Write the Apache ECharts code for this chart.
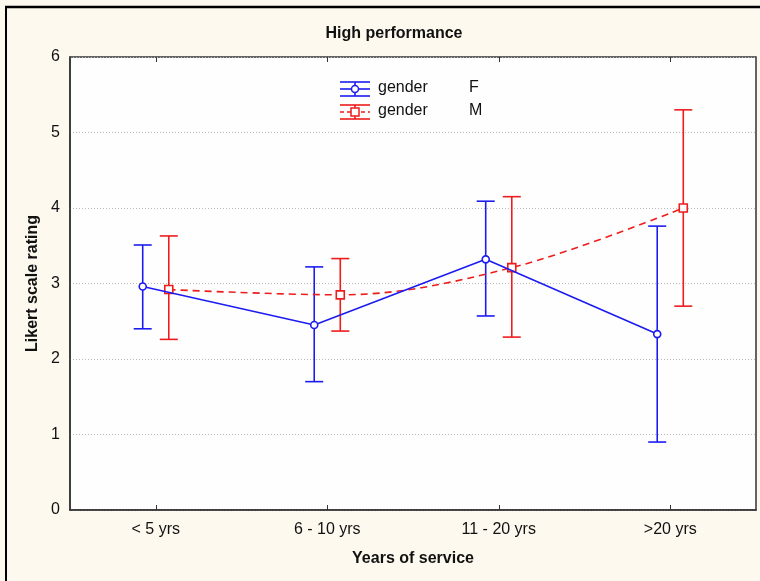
<!DOCTYPE html>
<html>
<head>
<meta charset="utf-8">
<script src="https://cdn.jsdelivr.net/npm/echarts@6/dist/echarts.min.js"></script>
<style>html,body{margin:0;padding:0;background:#fdf9ef;}#c{width:760px;height:581px;}</style>
</head>
<body>
<div id="c"></div>
<script>
const categories = ['< 5 yrs', '6 - 10 yrs', '11 - 20 yrs', '>20 yrs'];
const seriesNames = ['F', 'M'];
const legendPrefix = 'gender';
const fMean = [2.96, 2.45, 3.32, 2.33];
const fLow  = [2.40, 1.70, 2.57, 0.90];
const fHigh = [3.51, 3.22, 4.09, 3.76];
const mMean = [2.92, 2.85, 3.21, 4.00];
const mLow  = [2.26, 2.37, 2.29, 2.70];
const mHigh = [3.63, 3.33, 4.15, 5.30];
const yTicks = [0, 1, 2, 3, 4, 5, 6];

const BLUE = '#1c1cf2';
const RED = '#ee1c1c';
const DX = 0.076; // horizontal dodge of the two groups (in category units)
const FONT = 'Liberation Sans, Arial, sans-serif';

function pts(mean, side) {
  return mean.map((v, i) => [i + 1 + side * DX, v]);
}
function bars(low, high, side) {
  return low.map((v, i) => [i + 1 + side * DX, v, high[i]]);
}
function errRender(color) {
  return function (params, api) {
    const x = api.value(0), lo = api.value(1), hi = api.value(2);
    const a = api.coord([x, hi]), b = api.coord([x, lo]);
    const hw = 9;
    const st = { stroke: color, lineWidth: 1.6 };
    return {
      type: 'group',
      children: [
        { type: 'line', shape: { x1: a[0], y1: a[1], x2: b[0], y2: b[1] }, style: st },
        { type: 'line', shape: { x1: a[0] - hw, y1: a[1], x2: a[0] + hw, y2: a[1] }, style: st },
        { type: 'line', shape: { x1: b[0] - hw, y1: b[1], x2: b[0] + hw, y2: b[1] }, style: st }
      ]
    };
  };
}

function legendRow(y, color, dashed, symbol, name) {
  const st = { stroke: color, lineWidth: 1.6 };
  const mid = { stroke: color, lineWidth: 1.6, lineDash: dashed ? [4, 3] : null };
  const marker = symbol === 'circle'
    ? { type: 'circle', shape: { cx: 355, cy: y, r: 3.5 }, style: { fill: '#fff', stroke: color, lineWidth: 1.5 }, z: 10 }
    : { type: 'rect', shape: { x: 351, y: y - 4, width: 8, height: 8 }, style: { fill: '#fff', stroke: color, lineWidth: 1.5 }, z: 10 };
  return [
    { type: 'line', shape: { x1: 340, y1: y - 7, x2: 370, y2: y - 7 }, style: st },
    { type: 'line', shape: { x1: 340, y1: y + 7, x2: 370, y2: y + 7 }, style: st },
    { type: 'line', shape: { x1: 355, y1: y - 7, x2: 355, y2: y + 7 }, style: st },
    { type: 'line', shape: { x1: 340, y1: y, x2: 370, y2: y }, style: mid },
    marker,
    { type: 'text', left: 378, top: y - 9, style: { text: legendPrefix, font: '16px ' + FONT, fill: '#111' } },
    { type: 'text', left: 469, top: y - 9, style: { text: name, font: '16px ' + FONT, fill: '#111' } }
  ];
}

const chart = echarts.init(document.getElementById('c'), null, { renderer: 'canvas' });
chart.setOption({
  backgroundColor: '#fdf9ef',
  animation: false,
  title: {
    text: 'High performance',
    left: 389, top: 21, textAlign: 'center',
    textStyle: { fontFamily: FONT, fontSize: 16, fontWeight: 'bold', color: '#111' }
  },
  grid: {
    left: 70, top: 57, right: 4, bottom: 71,
    show: true, backgroundColor: '#fefefe', borderColor: '#333', borderWidth: 1.5
  },
  xAxis: [
    {
      type: 'category', data: categories, boundaryGap: true, position: 'bottom',
      axisLine: { show: true, lineStyle: { color: '#333', width: 1.5 } },
      axisTick: { show: true, inside: true, alignWithLabel: true, length: 5, lineStyle: { color: '#333' } },
      axisLabel: { fontFamily: FONT, fontSize: 16, color: '#111', margin: 12 },
      splitLine: { show: false },
      name: 'Years of service', nameLocation: 'middle', nameGap: 41,
      nameTextStyle: { fontFamily: FONT, fontSize: 16, fontWeight: 'bold', color: '#111' }
    },
    { type: 'value', min: 0.5, max: 4.5, show: false },
    {
      type: 'category', data: categories, boundaryGap: true, position: 'top',
      axisLine: { show: false },
      axisTick: { show: true, inside: true, alignWithLabel: true, length: 5, lineStyle: { color: '#333' } },
      axisLabel: { show: false }
    }
  ],
  yAxis: {
    type: 'value', min: yTicks[0], max: yTicks[yTicks.length - 1], interval: 1,
    axisLine: { show: true, lineStyle: { color: '#333', width: 1.5 } },
    axisTick: { show: false },
    axisLabel: { fontFamily: FONT, fontSize: 16, color: '#111', margin: 10 },
    splitLine: { show: true, lineStyle: { color: '#bbb', type: [1, 2], width: 1 } },
    name: 'Likert scale rating', nameLocation: 'middle', nameGap: 28, nameRotate: 90,
    nameTextStyle: { fontFamily: FONT, fontSize: 16, fontWeight: 'bold', color: '#111' }
  },
  series: [
    {
      type: 'custom', name: seriesNames[0] + ' err', xAxisIndex: 1, z: 2,
      renderItem: errRender(BLUE), encode: { x: 0, y: [1, 2] },
      data: bars(fLow, fHigh, -1)
    },
    {
      type: 'custom', name: seriesNames[1] + ' err', xAxisIndex: 1, z: 2,
      renderItem: errRender(RED), encode: { x: 0, y: [1, 2] },
      data: bars(mLow, mHigh, 1)
    },
    {
      type: 'line', name: seriesNames[1], xAxisIndex: 1, z: 3,
      data: pts(mMean, 1), smooth: 0.35,
      lineStyle: { color: RED, width: 1.6, type: [7, 5] },
      symbol: 'rect', symbolSize: 8,
      itemStyle: { color: '#fff', borderColor: RED, borderWidth: 1.6 }
    },
    {
      type: 'line', name: seriesNames[0], xAxisIndex: 1, z: 4,
      data: pts(fMean, -1),
      lineStyle: { color: BLUE, width: 1.6 },
      symbol: 'circle', symbolSize: 7,
      itemStyle: { color: '#fff', borderColor: BLUE, borderWidth: 1.6 }
    }
  ],
  graphic: [
    { type: 'line', shape: { x1: 5, y1: 7, x2: 760, y2: 7 }, style: { stroke: '#000', lineWidth: 2.5 } },
    { type: 'line', shape: { x1: 6, y1: 6, x2: 6, y2: 581 }, style: { stroke: '#000', lineWidth: 2 } }
  ].concat(legendRow(89, BLUE, false, 'circle', seriesNames[0]))
   .concat(legendRow(112, RED, true, 'rect', seriesNames[1]))
});
</script>
</body>
</html>
